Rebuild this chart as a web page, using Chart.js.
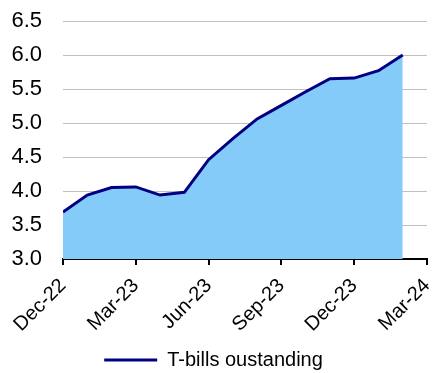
<!DOCTYPE html>
<html>
  <head>
    <title>T-bills outstanding</title>
    <script src="https://cdn.jsdelivr.net/npm/chart.js@4.4.1/dist/chart.umd.min.js"></script>
    <style>
      html, body { margin: 0; padding: 0; background: #fff; }
      #container { width: 436px; height: 373px; }
    </style>
  </head>
  <body>
    <div id="container">
      <canvas id="canvas"></canvas>
    </div>
    <script>
      // monthly axis, Dec-22 .. Mar-24 (last month has no value yet)
      const months = [
        'Dec-22', 'Jan-23', 'Feb-23', 'Mar-23', 'Apr-23', 'May-23', 'Jun-23', 'Jul-23',
        'Aug-23', 'Sep-23', 'Oct-23', 'Nov-23', 'Dec-23', 'Jan-24', 'Feb-24', 'Mar-24',
      ];
      const tbills = [
        3.69, 3.94, 4.05, 4.06, 3.94, 3.98, 4.46, 4.77,
        5.06, 5.26, 5.46, 5.65, 5.66, 5.77, 6.00,
      ];
      const seriesLabel = 'T-bills oustanding';

      const points = tbills.map((v, i) => ({ x: i, y: v }));
      const font = 'Liberation Sans, Arial, sans-serif';

      window.onload = () => {
        const ctx = document.getElementById('canvas').getContext('2d');
        window.myChart = new Chart(ctx, {
          type: 'line',
          data: {
            datasets: [
              {
                label: seriesLabel,
                data: points,
                borderColor: '#000080',
                backgroundColor: '#84CBFA',
                borderWidth: 3,
                fill: 'origin',
                pointRadius: 0,
                tension: 0,
              },
            ],
          },
          options: {
            responsive: true,
            maintainAspectRatio: false,
            animation: false,
            layout: {
              padding: { left: 0, right: 9, top: 21, bottom: -7 },
            },
            plugins: {
              tooltip: { enabled: false },
              legend: {
                position: 'bottom',
                labels: {
                  usePointStyle: true,
                  pointStyle: 'line',
                  pointStyleWidth: 53,
                  color: '#000',
                  font: { family: font, size: 20 },
                  padding: 6,
                },
              },
            },
            scales: {
              x: {
                type: 'linear',
                min: 0,
                max: months.length - 1,
                offset: false,
                grid: {
                  drawOnChartArea: false,
                  drawTicks: true,
                  tickLength: 6,
                  color: '#000',
                  lineWidth: 2,
                },
                border: { color: '#000', width: 2 },
                ticks: {
                  stepSize: 3,
                  autoSkip: false,
                  maxRotation: 45,
                  minRotation: 45,
                  padding: 9,
                  color: '#000',
                  font: { family: font, size: 20 },
                  callback: (v) => months[v],
                },
                afterFit: (s) => {
                  s.paddingLeft = 0;
                  s.paddingRight = 0;
                  s.height = 85;
                },
              },
              y: {
                min: 3.0,
                max: 6.5,
                z: 1,
                grid: {
                  color: 'rgba(0,0,0,0.25)',
                  lineWidth: 1,
                  drawTicks: false,
                },
                border: { display: false },
                ticks: {
                  stepSize: 0.5,
                  autoSkip: false,
                  padding: 21,
                  color: '#000',
                  font: { family: font, size: 22 },
                  callback: (v) => v.toFixed(1),
                },
                afterFit: (s) => {
                  s.paddingTop = 0;
                  s.paddingBottom = 0;
                  s.width = 63;
                },
              },
            },
          },
        });
      };
    </script>
  </body>
</html>
